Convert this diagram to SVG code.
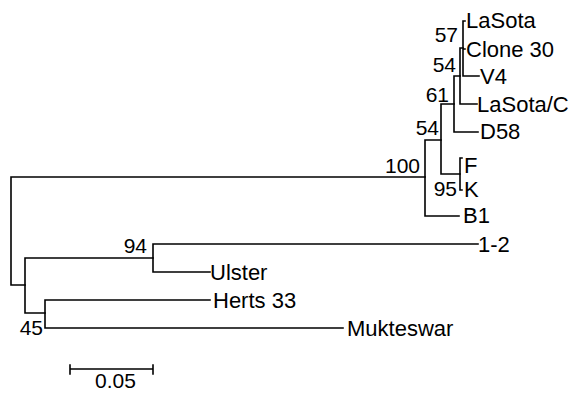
<svg xmlns="http://www.w3.org/2000/svg" width="570" height="393" viewBox="0 0 570 393">
  <style>
    .br { fill: none; stroke: #000; stroke-width: 1.6; stroke-linecap: square; }
    text { font-family: "Liberation Sans", Arial, sans-serif; font-size: 21px; fill: #000; }
    .lf { font-size: 22px; }
    .bs { text-anchor: end; }
  </style>
  <rect width="570" height="393" fill="#fff"/>

  <!-- branches -->
  <g id="connectors" class="br">
    <path d="M11,177 H425 M11,177 V285 H25"/>
    <path d="M425,140 V216 M425,140 H441 M425,216 H459"/>
    <path d="M441,104 V174 M441,104 H454 M441,174 H460"/>
    <path d="M460,158 V190 M460,158 H462 M460,190 H462"/>
    <path d="M454,76 V132 M454,76 H460 M454,132 H478"/>
    <path d="M460,48 V104 M460,104 H477 M460,48 H463"/>
    <path d="M463,21 V76 M463,21 H465 M463,49 H465 M463,76 H479"/>
    <path d="M25,258 V313 M25,258 H153 M25,313 H45"/>
    <path d="M153,244 V272 M153,244 H478 M153,272 H210"/>
    <path d="M45,300 V328 M45,300 H210 M45,328 H343"/>
  </g>

  <!-- leaves -->
  <g id="leaf-lasota"><text class="lf" x="466" y="28">LaSota</text></g>
  <g id="leaf-clone30"><text class="lf" x="466" y="56.5">Clone 30</text></g>
  <g id="leaf-v4"><text class="lf" x="480" y="83.5">V4</text></g>
  <g id="leaf-lasotac"><text class="lf" x="477" y="111.5">LaSota/C</text></g>
  <g id="leaf-d58"><text class="lf" x="480" y="139">D58</text></g>
  <g id="leaf-f"><text class="lf" x="464" y="173">F</text></g>
  <g id="leaf-k"><text class="lf" x="464" y="196.5">K</text></g>
  <g id="leaf-b1"><text class="lf" x="463" y="223">B1</text></g>
  <g id="leaf-1-2"><text class="lf" x="478" y="251.5">1-2</text></g>
  <g id="leaf-ulster"><text class="lf" x="210" y="279.5">Ulster</text></g>
  <g id="leaf-herts33"><text class="lf" x="213" y="307.5">Herts 33</text></g>
  <g id="leaf-mukteswar"><text class="lf" x="347" y="335.5">Mukteswar</text></g>

  <!-- internal nodes with bootstrap support -->
  <g id="node-57"><text class="bs" x="458" y="42">57</text></g>
  <g id="node-54a"><text class="bs" x="456" y="72">54</text></g>
  <g id="node-61"><text class="bs" x="449" y="102">61</text></g>
  <g id="node-54b"><text class="bs" x="439" y="135">54</text></g>
  <g id="node-100"><text class="bs" x="420" y="173">100</text></g>
  <g id="node-95"><text class="bs" x="457" y="196">95</text></g>
  <g id="node-94"><text class="bs" x="147" y="253">94</text></g>
  <g id="node-45"><text class="bs" x="43" y="335">45</text></g>

  <!-- scale bar -->
  <g id="scale-bar">
    <path class="br" d="M70,369 H153 M70,365 V374 M153,365 V374"/>
    <text x="95" y="388">0.05</text>
  </g>
</svg>
